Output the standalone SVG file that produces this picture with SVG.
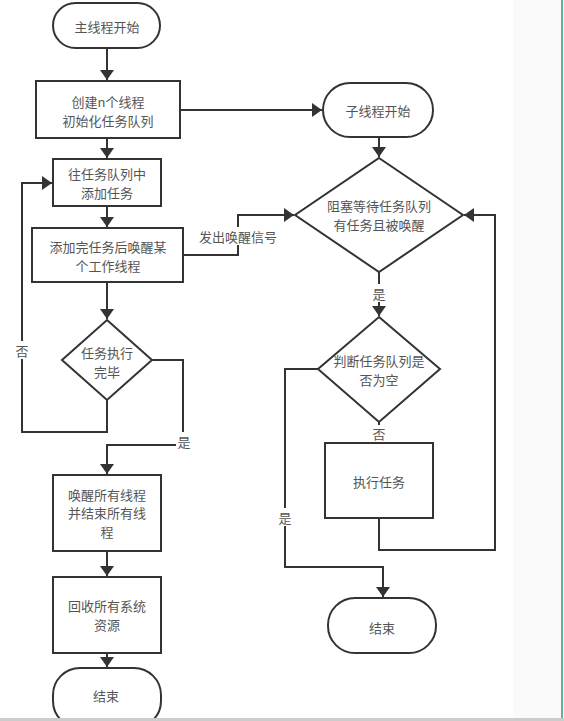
<svg xmlns="http://www.w3.org/2000/svg" width="564" height="721" viewBox="0 0 564 721">
<style>
.n{fill:#fff;stroke:#333;stroke-width:2}
.t{font-family:"Noto Sans CJK SC","Liberation Sans",sans-serif;font-size:13px;fill:#555;text-anchor:middle;dominant-baseline:central}
.c{fill:none;stroke:#333;stroke-width:2}
</style>
<defs>
<marker id="a" viewBox="0 0 10 14" refX="10" refY="7" markerWidth="10" markerHeight="14" markerUnits="userSpaceOnUse" orient="auto">
<path d="M0,0 L10,7 L0,14 Z" fill="#333"/>
</marker>
</defs>
<rect x="0" y="0" width="564" height="721" fill="#fff"/>
<rect x="513" y="0" width="48" height="718" fill="#fafafa"/>
<line x1="562" y1="0" x2="562" y2="718" stroke="#2a9d6f" stroke-width="1.5"/>
<g id="connectors">
<path class="c" d="M107,48 V80" marker-end="url(#a)"/>
<path class="c" d="M180,110 H322" marker-end="url(#a)"/>
<path class="c" d="M107,138 V158" marker-end="url(#a)"/>
<path class="c" d="M107,206 V227" marker-end="url(#a)"/>
<path class="c" d="M183,255 H238 V215 H294" marker-end="url(#a)"/>
<path class="c" d="M107,282 V319" marker-end="url(#a)"/>
<path class="c" d="M107,400 V432 H22 V183 H52" marker-end="url(#a)"/>
<path class="c" d="M152,360 H183 V445 H107 V474" marker-end="url(#a)"/>
<path class="c" d="M107,551 V576" marker-end="url(#a)"/>
<path class="c" d="M107,653 V667" marker-end="url(#a)"/>
<path class="c" d="M379,137 V157" marker-end="url(#a)"/>
<path class="c" d="M379,272 V316" marker-end="url(#a)"/>
<path class="c" d="M379,422 V443"/>
<path class="c" d="M379,518 V550 H495 V215 H464" marker-end="url(#a)"/>
<path class="c" d="M318,369 H285 V567 H383 V597" marker-end="url(#a)"/>
<rect x="196" y="227" width="84" height="18" fill="#fff"/>
<text class="t" x="238" y="236">发出唤醒信号</text>
<rect x="14" y="341" width="16" height="18" fill="#fff"/>
<text class="t" x="22" y="350">否</text>
<rect x="176" y="432" width="16" height="18" fill="#fff"/>
<text class="t" x="184" y="441">是</text>
<rect x="371" y="284" width="16" height="18" fill="#fff"/>
<text class="t" x="379" y="293">是</text>
<rect x="371" y="425" width="16" height="17" fill="#fff"/>
<text class="t" x="379" y="433">否</text>
<rect x="277" y="508" width="16" height="18" fill="#fff"/>
<text class="t" x="285" y="517">是</text>
</g>
<g id="main_start">
<rect class="n" x="53" y="3" width="107" height="45" rx="22.5"/>
<text class="t" x="107" y="26">主线程开始</text>
</g>
<g id="create_threads">
<rect class="n" x="36" y="81" width="144" height="57"/>
<text class="t" x="108" y="101">创建n个线程</text>
<text class="t" x="108" y="120">初始化任务队列</text>
</g>
<g id="add_task">
<rect class="n" x="53" y="159" width="108" height="47"/>
<text class="t" x="107" y="173">往任务队列中</text>
<text class="t" x="107" y="192">添加任务</text>
</g>
<g id="wake_worker">
<rect class="n" x="32" y="228" width="151" height="54"/>
<text class="t" x="108" y="246">添加完任务后唤醒某</text>
<text class="t" x="108" y="265">个工作线程</text>
</g>
<g id="tasks_done">
<polygon class="n" points="107,320 152,360 107,400 62,360"/>
<text class="t" x="107" y="352">任务执行</text>
<text class="t" x="107" y="371">完毕</text>
</g>
<g id="wake_all">
<rect class="n" x="53" y="475" width="108" height="76"/>
<text class="t" x="107" y="494">唤醒所有线程</text>
<text class="t" x="107" y="512">并结束所有线</text>
<text class="t" x="107" y="531">程</text>
</g>
<g id="reclaim">
<rect class="n" x="53" y="577" width="108" height="76"/>
<text class="t" x="107" y="605">回收所有系统</text>
<text class="t" x="107" y="624">资源</text>
</g>
<g id="main_end">
<rect class="n" x="53" y="668" width="108" height="60" rx="27"/>
<text class="t" x="106" y="695">结束</text>
</g>
<g id="sub_start">
<rect class="n" x="323" y="83" width="110" height="54" rx="27"/>
<text class="t" x="378" y="110">子线程开始</text>
</g>
<g id="wait_task">
<polygon class="n" points="379,158 463,215 379,272 295,215"/>
<text class="t" x="379" y="205">阻塞等待任务队列</text>
<text class="t" x="379" y="224">有任务且被唤醒</text>
</g>
<g id="queue_empty">
<polygon class="n" points="379,317 440,369 379,422 318,369"/>
<text class="t" x="379" y="360">判断任务队列是</text>
<text class="t" x="379" y="379">否为空</text>
</g>
<g id="run_task">
<rect class="n" x="325" y="443" width="108" height="75"/>
<text class="t" x="379" y="481">执行任务</text>
</g>
<g id="sub_end">
<rect class="n" x="328" y="598" width="108" height="55" rx="27"/>
<text class="t" x="382" y="627">结束</text>
</g>
<rect x="0" y="718" width="564" height="3" fill="#ccc"/>
</svg>
